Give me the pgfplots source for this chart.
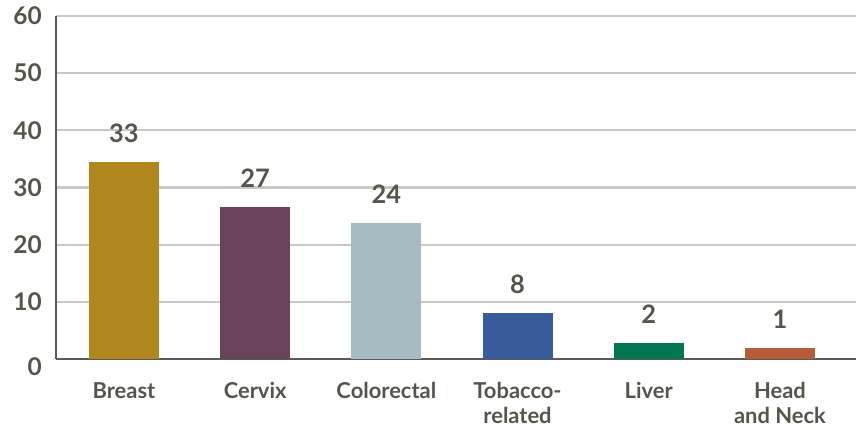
\documentclass[border=0pt]{standalone}
\usepackage{pgfplots}
\pgfplotsset{compat=1.18}
\usepackage{fontspec}
\setmainfont{Lato}
\definecolor{txt}{HTML}{55554B}
\definecolor{gridc}{HTML}{C9C9C3}
\definecolor{axc}{HTML}{5A5A52}
\definecolor{c1}{HTML}{B0861F}
\definecolor{c2}{HTML}{6A4259}
\definecolor{c3}{HTML}{A6BAC2}
\definecolor{c4}{HTML}{365C9B}
\definecolor{c5}{HTML}{007752}
\definecolor{c6}{HTML}{B55C38}
\begin{document}
\begin{tikzpicture}
\begin{axis}[
  scale only axis, width=800bp, height=343bp,
  xmin=-0.518, xmax=5.58, ymin=0, ymax=60,
  ytick={0,10,...,60},
  yticklabel={\ifdim\tick pt<1pt\raisebox{-8bp}[\height][\depth]{0}\else\pgfmathprintnumber{\tick}\fi},
  xtick={0,...,5},
  xticklabels={Breast,Cervix,Colorectal,Tobacco-\\related,Liver,Head\\and Neck},
  major tick length=0pt,
  axis x line*=bottom, axis y line*=left,
  axis line style={-, draw=axc, line width=2.2bp},
  ymajorgrids, grid style={draw=gridc, line width=2.2bp},
  /pgf/number format/assume math mode=true,
  yticklabel style={font=\fontsize{24.5}{28}\selectfont\bfseries, text=txt, inner sep=0pt, xshift=-14bp},
  xticklabel style={font=\fontsize{22}{25}\selectfont\bfseries, text=txt, align=center, inner sep=0pt, yshift=-23bp},
  ybar, bar width=70bp,
  every axis plot/.append style={bar shift=0pt, draw=none},
  nodes near coords, point meta=explicit symbolic,
  nodes near coords style={font=\fontsize{25.5}{28}\selectfont\bfseries, text=txt, inner sep=0pt, anchor=south, yshift=19bp},
]
\addplot[fill=c1] coordinates {(0,34.4) [33]};
\addplot[fill=c2] coordinates {(1,26.6) [27]};
\addplot[fill=c3] coordinates {(2,23.8) [24]};
\addplot[fill=c4] coordinates {(3,8.0) [8]};
\addplot[fill=c5] coordinates {(4,2.8) [2]};
\addplot[fill=c6] coordinates {(5,1.9) [1]};
\end{axis}
\pgfresetboundingbox
\path[use as bounding box] ([shift={(-56bp,-71bp)}]current axis.south west) rectangle ([shift={(0bp,16bp)}]current axis.north east);
\end{tikzpicture}
\end{document}
